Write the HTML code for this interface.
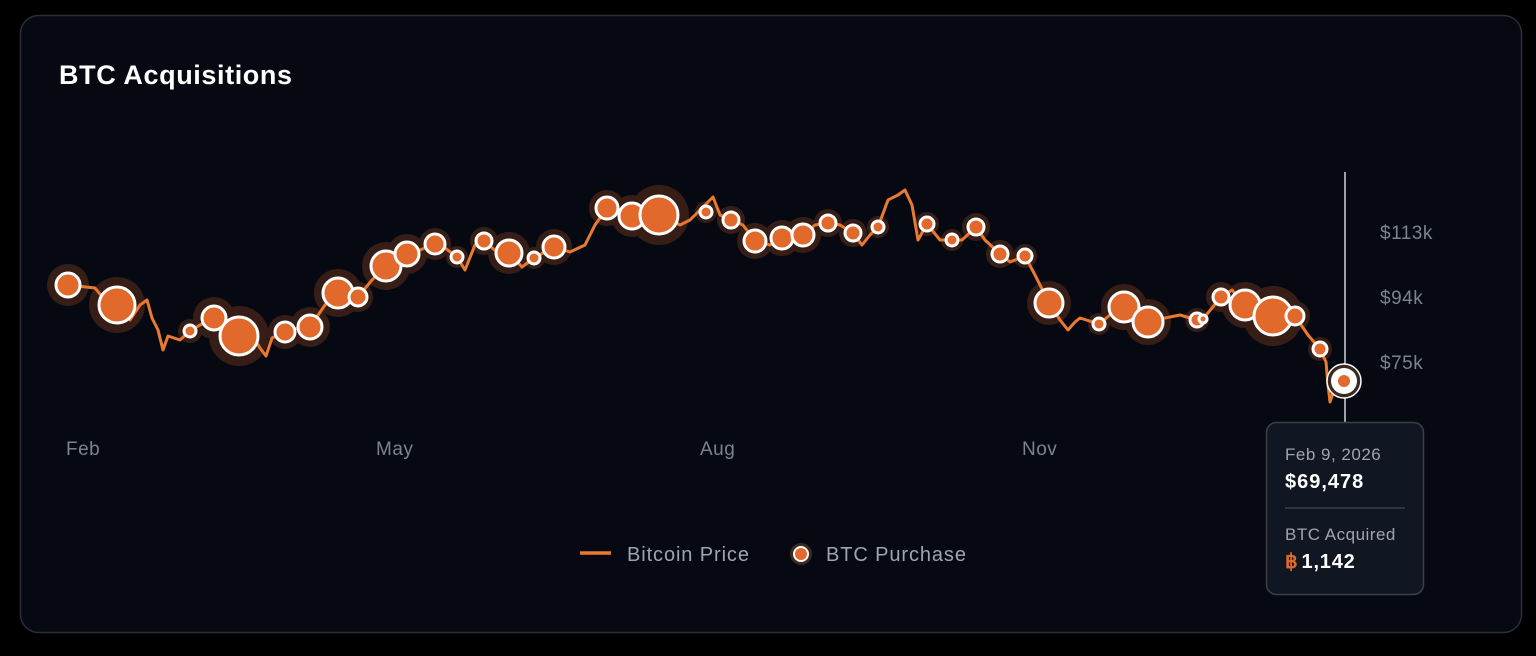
<!DOCTYPE html>
<html><head><meta charset="utf-8"><style>
html,body{margin:0;padding:0;background:#000;width:1536px;height:656px;overflow:hidden}
svg{display:block;font-family:"Liberation Sans",sans-serif}
</style></head><body>
<svg width="1536" height="656" viewBox="0 0 1536 656">
<rect x="0" y="0" width="1536" height="656" fill="#000"/>
<rect x="20.5" y="15.5" width="1501" height="617" rx="18" fill="#060912" stroke="#2a2e38" stroke-width="1.5"/>
<text x="59" y="84" fill="#fff" font-size="27" font-weight="bold" letter-spacing="0.6">BTC Acquisitions</text>
<g fill="#7d828c" font-size="19" letter-spacing="0.5">
<text x="66" y="455">Feb</text><text x="376" y="455">May</text><text x="700" y="455">Aug</text><text x="1022" y="455">Nov</text>
<text x="1380" y="239">$113k</text><text x="1380" y="304">$94k</text><text x="1380" y="369">$75k</text>
</g>
<line x1="1345" y1="172" x2="1345" y2="422" stroke="#cfd2d8" stroke-width="1.5"/>
<polyline fill="none" stroke="#ea7a30" stroke-width="3" stroke-linejoin="round" points="55,285 68,285 95,288 105,300 117,305 130,320 140,305 147,300 152,318 158,330 163,350 168,336 174,338 180,340 190,331 200,325 214,318 225,330 239,336 255,340 260,348 266,356 272,338 285,332 298,328 310,327 325,305 338,293 358,297 372,280 386,266 407,254 420,250 435,244 445,248 457,257 465,270 475,245 484,241 497,252 509,253 522,267 534,258 554,247 570,252 585,245 595,225 607,208 632,216 659,215 680,225 690,220 700,210 713,197 720,215 731,220 743,225 755,241 770,245 782,238 803,235 815,225 828,223 840,225 853,233 862,245 870,235 878,227 888,200 898,195 905,190 912,205 918,240 927,224 940,240 952,240 962,240 976,227 985,240 1000,254 1010,262 1025,256 1035,275 1049,303 1060,320 1068,330 1075,322 1080,318 1099,324 1110,315 1124,307 1135,315 1148,322 1165,318 1180,315 1197,320 1203,319 1221,297 1232,290 1245,305 1260,300 1273,316 1285,313 1295,316 1308,335 1320,349 1326,362 1328,385 1330,402 1334,390 1344,381"/>
<g fill="#e0692b" opacity="0.22">
<circle cx="68" cy="285" r="21"/><circle cx="117" cy="305" r="28"/><circle cx="190" cy="331" r="12"/><circle cx="214" cy="318" r="21"/><circle cx="239" cy="336" r="30"/><circle cx="285" cy="332" r="17"/><circle cx="310" cy="327" r="20"/><circle cx="338" cy="293" r="24"/><circle cx="358" cy="297" r="15"/><circle cx="386" cy="266" r="24"/><circle cx="407" cy="254" r="20"/><circle cx="435" cy="244" r="16"/><circle cx="457" cy="257" r="11"/><circle cx="484" cy="241" r="14"/><circle cx="509" cy="253" r="21"/><circle cx="534" cy="258" r="11"/><circle cx="554" cy="247" r="18"/><circle cx="607" cy="208" r="18"/><circle cx="632" cy="216" r="21"/><circle cx="659" cy="215" r="30"/><circle cx="706" cy="212" r="11"/><circle cx="731" cy="220" r="14"/><circle cx="755" cy="241" r="18"/><circle cx="782" cy="238" r="18"/><circle cx="803" cy="235" r="18"/><circle cx="828" cy="223" r="14"/><circle cx="853" cy="233" r="14"/><circle cx="878" cy="227" r="11"/><circle cx="927" cy="224" r="12"/><circle cx="952" cy="240" r="11"/><circle cx="976" cy="227" r="14"/><circle cx="1000" cy="254" r="14"/><circle cx="1025" cy="256" r="12"/><circle cx="1049" cy="303" r="22"/><circle cx="1099" cy="324" r="11"/><circle cx="1124" cy="307" r="23"/><circle cx="1148" cy="322" r="23"/><circle cx="1197" cy="320" r="12"/><circle cx="1221" cy="297" r="15"/><circle cx="1245" cy="305" r="23"/><circle cx="1273" cy="316" r="30"/><circle cx="1295" cy="316" r="15"/><circle cx="1320" cy="349" r="12"/>
</g>
<g fill="#e0692b" stroke="#fff" stroke-width="3">
<circle cx="68" cy="285" r="12"/><circle cx="117" cy="305" r="18"/><circle cx="190" cy="331" r="6"/><circle cx="214" cy="318" r="12"/><circle cx="239" cy="336" r="19"/><circle cx="285" cy="332" r="10"/><circle cx="310" cy="327" r="12"/><circle cx="338" cy="293" r="15"/><circle cx="358" cy="297" r="9"/><circle cx="386" cy="266" r="15"/><circle cx="407" cy="254" r="12"/><circle cx="435" cy="244" r="10"/><circle cx="457" cy="257" r="6"/><circle cx="484" cy="241" r="8"/><circle cx="509" cy="253" r="13"/><circle cx="534" cy="258" r="6"/><circle cx="554" cy="247" r="11"/><circle cx="607" cy="208" r="11"/><circle cx="632" cy="216" r="13"/><circle cx="659" cy="215" r="19"/><circle cx="706" cy="212" r="6"/><circle cx="731" cy="220" r="8"/><circle cx="755" cy="241" r="11"/><circle cx="782" cy="238" r="11"/><circle cx="803" cy="235" r="11"/><circle cx="828" cy="223" r="8"/><circle cx="853" cy="233" r="8"/><circle cx="878" cy="227" r="6"/><circle cx="927" cy="224" r="7"/><circle cx="952" cy="240" r="6"/><circle cx="976" cy="227" r="8"/><circle cx="1000" cy="254" r="8"/><circle cx="1025" cy="256" r="7"/><circle cx="1049" cy="303" r="14"/><circle cx="1099" cy="324" r="6"/><circle cx="1124" cy="307" r="15"/><circle cx="1148" cy="322" r="15"/><circle cx="1197" cy="320" r="7"/><circle cx="1203" cy="319" r="4"/><circle cx="1221" cy="297" r="8"/><circle cx="1245" cy="305" r="15"/><circle cx="1273" cy="316" r="19"/><circle cx="1295" cy="316" r="9"/><circle cx="1320" cy="349" r="7"/>
</g>
<circle cx="1344" cy="381" r="17" fill="#3a2a22" stroke="#fff" stroke-width="1.5"/>
<circle cx="1344" cy="381" r="13" fill="#fff"/>
<circle cx="1344" cy="381" r="6" fill="#e0692b"/>
<rect x="1266.5" y="422.5" width="157" height="172" rx="10" fill="#111722" stroke="#3a3f4a" stroke-width="1.5"/>
<text x="1285" y="460" fill="#a0a4ad" font-size="17" letter-spacing="0.5">Feb 9, 2026</text>
<text x="1285" y="488" fill="#fff" font-size="20" font-weight="bold" letter-spacing="1">$69,478</text>
<line x1="1285" y1="508" x2="1405" y2="508" stroke="#3a3f4a" stroke-width="1.5"/>
<text x="1285" y="540" fill="#a0a4ad" font-size="17" letter-spacing="0.5">BTC Acquired</text>
<text x="1285" y="568" font-size="20" font-weight="bold" letter-spacing="0.8"><tspan fill="#e0692b">฿</tspan><tspan fill="#fff" dx="3">1,142</tspan></text>
<line x1="580" y1="553" x2="611" y2="553" stroke="#ea7a30" stroke-width="3.5"/>
<text x="627" y="561" fill="#a0a4ad" font-size="20" letter-spacing="0.9">Bitcoin Price</text>
<circle cx="801" cy="554" r="11" fill="#3a2a22"/>
<circle cx="801" cy="554" r="7" fill="#e0692b" stroke="#fff" stroke-width="2"/>
<text x="826" y="561" fill="#a0a4ad" font-size="20" letter-spacing="0.9">BTC Purchase</text>
</svg>
</body></html>
